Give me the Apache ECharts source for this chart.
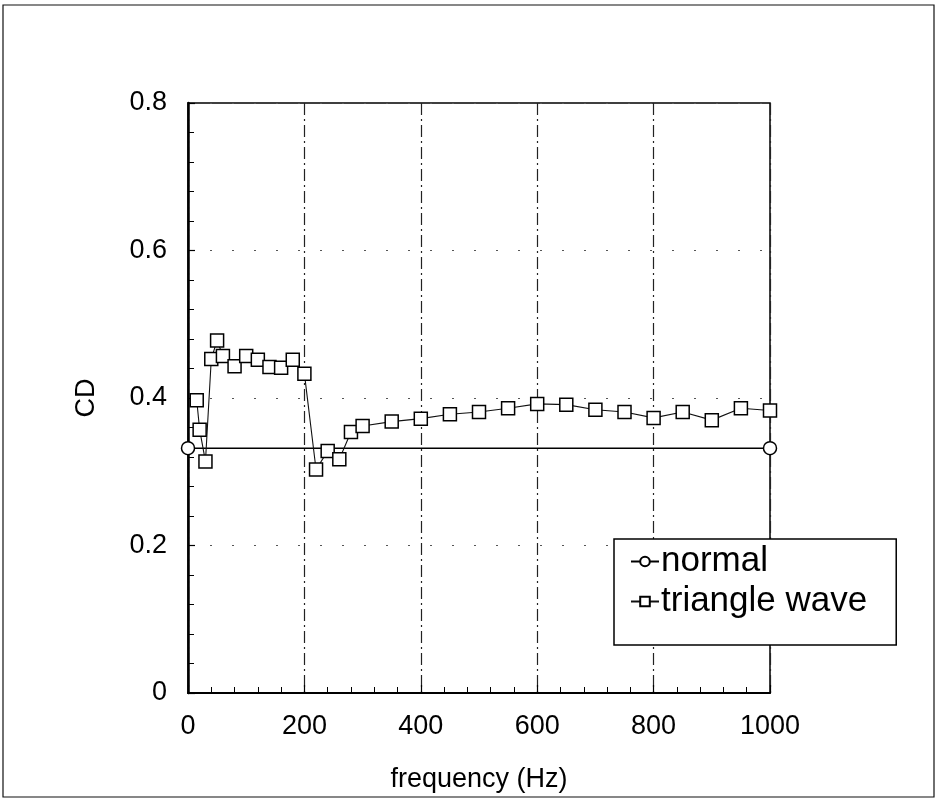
<!DOCTYPE html>
<html>
<head>
<meta charset="utf-8">
<script src="https://cdn.jsdelivr.net/npm/echarts@6/dist/echarts.min.js"></script>
<style>
  html, body { margin: 0; padding: 0; background: #fff; }
  #chart { width: 936px; height: 800px; }
</style>
</head>
<body>
<div id="chart"></div>
<script>
// Drag coefficient vs. excitation frequency
const normalFreq = [0, 1000];
const normalCD = [0.332, 0.332];

const triangleFreq = [15, 20, 30, 40, 50, 60, 80, 100, 120, 140, 160, 180, 200,
  220, 240, 260, 280, 300, 350, 400, 450, 500, 550, 600, 650, 700, 750, 800,
  850, 900, 950, 1000];
const triangleCD = [0.397, 0.357, 0.314, 0.453, 0.478, 0.457, 0.443, 0.457, 0.452,
  0.442, 0.441, 0.452, 0.433, 0.303, 0.328, 0.317, 0.354, 0.362, 0.368, 0.372,
  0.378, 0.381, 0.386, 0.392, 0.391, 0.384, 0.381, 0.373, 0.381, 0.370, 0.386,
  0.383];

const xTicks = [0, 200, 400, 600, 800, 1000];
const yTicks = [0, 0.2, 0.4, 0.6, 0.8];

const seriesNames = ['normal', 'triangle wave'];

const pair = (xs, ys) => xs.map((x, i) => [x, ys[i]]);

const FONT = '"Liberation Sans", Arial, Helvetica, sans-serif';

const chart = echarts.init(document.getElementById('chart'), null, { renderer: 'canvas' });

chart.setOption({
  animation: false,
  backgroundColor: '#fff',
  textStyle: { fontFamily: FONT, color: '#000' },
  graphic: [{
    type: 'rect',
    shape: { x: 3, y: 5, width: 931, height: 792 },
    style: { fill: 'none', stroke: '#111', lineWidth: 1.2 },
    silent: true,
    z: -1
  }],
  grid: {
    left: 188, right: 166, top: 103, bottom: 107,
    show: true, borderColor: '#000', borderWidth: 1.5,
    backgroundColor: 'transparent'
  },
  legend: {
    orient: 'vertical',
    left: 614, top: 539,
    data: seriesNames,
    backgroundColor: '#fff',
    borderColor: '#000',
    borderWidth: 1.5,
    padding: [5, 29, 26, 16],
    itemWidth: 28,
    itemHeight: 12,
    itemGap: 5,
    textStyle: { fontFamily: FONT, fontSize: 35, color: '#000', padding: [0, 0, 0, -3] },
    z: 10
  },
  xAxis: {
    type: 'value',
    min: xTicks[0], max: xTicks[xTicks.length - 1], interval: 200,
    name: 'frequency (Hz)',
    nameLocation: 'middle',
    nameGap: 73,
    nameTextStyle: { fontFamily: FONT, fontSize: 27, color: '#000' },
    axisLine: { show: true, onZero: false, lineStyle: { color: '#000', width: 2 } },
    axisTick: { show: true, inside: true, length: 8, lineStyle: { color: '#000', width: 1.2 } },
    minorTick: { show: true, splitNumber: 5, length: 6, lineStyle: { color: '#000', width: 1 } },
    axisLabel: { fontFamily: FONT, fontSize: 27, color: '#000', margin: 20,
      formatter: v => String(v) },
    splitLine: { show: true, lineStyle: { color: '#222', width: 1.2, type: [12, 4, 2, 4] } },
    minorSplitLine: { show: false }
  },
  yAxis: {
    type: 'value',
    min: yTicks[0], max: yTicks[yTicks.length - 1], interval: 0.2,
    name: 'CD',
    nameLocation: 'middle',
    nameGap: 88,
    nameRotate: 90,
    nameTextStyle: { fontFamily: FONT, fontSize: 27, color: '#000' },
    axisLine: { show: true, onZero: false, lineStyle: { color: '#000', width: 2.5 } },
    axisTick: { show: true, inside: true, length: 7, lineStyle: { color: '#000', width: 1.2 } },
    minorTick: { show: true, splitNumber: 5, length: 6, lineStyle: { color: '#000', width: 1 } },
    axisLabel: { fontFamily: FONT, fontSize: 27, color: '#000', margin: 21,
      formatter: v => (v === 0 ? '0' : v.toFixed(1)) },
    splitLine: { show: true, lineStyle: { color: '#555', width: 1, type: [2, 20] } }
  },
  series: [
    {
      name: seriesNames[0],
      type: 'line',
      data: pair(normalFreq, normalCD),
      symbol: 'circle',
      symbolSize: 13,
      showAllSymbol: true,
      lineStyle: { color: '#000', width: 1.5 },
      itemStyle: { color: '#fff', borderColor: '#000', borderWidth: 1.5 },
      z: 3
    },
    {
      name: seriesNames[1],
      type: 'line',
      data: pair(triangleFreq, triangleCD),
      symbol: 'rect',
      symbolSize: 13,
      showAllSymbol: true,
      lineStyle: { color: '#111', width: 1.1 },
      itemStyle: { color: '#fff', borderColor: '#000', borderWidth: 1.5 },
      z: 4
    }
  ]
});
</script>
</body>
</html>
